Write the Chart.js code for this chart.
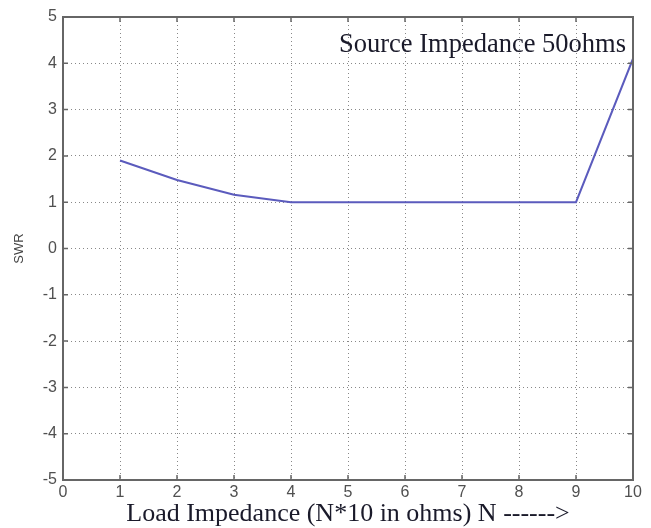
<!DOCTYPE html>
<html>
<head>
<meta charset="utf-8">
<script src="https://cdn.jsdelivr.net/npm/chart.js@4/dist/chart.umd.min.js"></script>
<style>
  html, body { margin: 0; padding: 0; background: #fff; }
  #wrap { width: 651px; height: 528px; }
</style>
</head>
<body>
<div id="wrap"><canvas id="swrChart" width="651" height="528"></canvas></div>
<script>
// load impedance steps (N) and the SWR
const loadSteps = [1, 2, 3, 4, 5, 6, 7, 8, 9, 10];
const swrValues = [1.9, 1.48, 1.16, 1.0, 1.0, 1.0, 1.0, 1.0, 1.0, 4.1];
const xTicks = [0, 1, 2, 3, 4, 5, 6, 7, 8, 9, 10];
const yTicks = [-5, -4, -3, -2, -1, 0, 1, 2, 3, 4, 5];
const noteText = "Source Impedance 50ohms";

const points = loadSteps.map((n, i) => ({ x: n, y: swrValues[i] }));

// box around the plot + short ticks pointing inwards, like matlab
const frameAndTicks = {
  id: "frameAndTicks",
  afterDatasetsDraw(chart) {
    const { ctx, chartArea: a, scales } = chart;
    ctx.save();
    ctx.strokeStyle = "#666";
    ctx.lineWidth = 2;
    ctx.strokeRect(a.left, a.top, a.right - a.left, a.bottom - a.top);
    ctx.lineWidth = 1.5;
    ctx.beginPath();
    xTicks.forEach(v => {
      const px = scales.x.getPixelForValue(v);
      ctx.moveTo(px, a.bottom); ctx.lineTo(px, a.bottom - 5);
      ctx.moveTo(px, a.top); ctx.lineTo(px, a.top + 5);
    });
    yTicks.forEach(v => {
      const py = scales.y.getPixelForValue(v);
      ctx.moveTo(a.left, py); ctx.lineTo(a.left + 5, py);
      ctx.moveTo(a.right, py); ctx.lineTo(a.right - 5, py);
    });
    ctx.stroke();

    ctx.fillStyle = "#1a1a2a";
    ctx.font = "26.5px 'Liberation Serif', serif";
    ctx.textAlign = "right";
    ctx.textBaseline = "alphabetic";
    ctx.fillText(noteText, a.right - 7, a.top + 35);
    ctx.restore();
  }
};

const tickFont = { family: "'Liberation Sans', sans-serif", size: 16 };

new Chart(document.getElementById("swrChart").getContext("2d"), {
  type: "line",
  data: {
    datasets: [{
      data: points,
      borderColor: "#5b5bbd",
      borderWidth: 2,
      pointRadius: 0,
      tension: 0,
      fill: false
    }]
  },
  options: {
    responsive: false,
    animation: false,
    layout: { padding: { top: 17, right: 18, left: 0, bottom: 0 } },
    plugins: { legend: { display: false }, tooltip: { enabled: false } },
    scales: {
      x: {
        type: "linear",
        min: 0, max: 10,
        afterBuildTicks: s => { s.ticks = xTicks.map(v => ({ value: v })); },
        afterFit: s => { s.height = 48; },
        grid: { color: "#888", lineWidth: 1, drawTicks: false },
        border: { display: false, dash: [1, 3] },
        ticks: { color: "#505050", font: tickFont, padding: 3, maxRotation: 0 },
        title: {
          display: true,
          text: "Load Impedance (N*10 in ohms) N ------>",
          color: "#1a1a2a",
          font: { family: "'Liberation Serif', serif", size: 26 },
          padding: { top: 0, bottom: -2 }
        }
      },
      y: {
        type: "linear",
        min: -5, max: 5,
        afterBuildTicks: s => { s.ticks = yTicks.map(v => ({ value: v })); },
        afterFit: s => { s.width = 63; },
        grid: { color: "#888", lineWidth: 1, drawTicks: false },
        border: { display: false, dash: [1, 3] },
        ticks: { color: "#505050", font: tickFont, padding: 6 },
        title: {
          display: true,
          text: "SWR",
          color: "#444",
          font: { family: "'Liberation Sans', sans-serif", size: 13 },
          padding: { top: 12, bottom: 0 }
        }
      }
    }
  },
  plugins: [frameAndTicks]
});
</script>
</body>
</html>
